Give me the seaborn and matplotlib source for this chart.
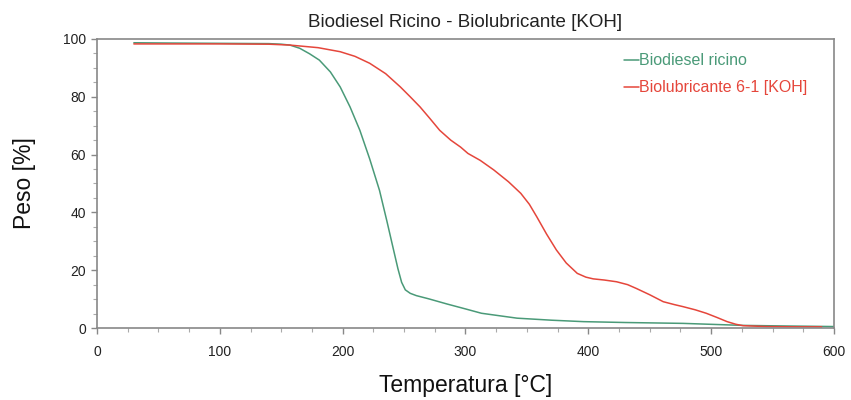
import numpy as np
import pandas as pd
import matplotlib
matplotlib.use("Agg")
import matplotlib.pyplot as plt
import seaborn as sns
from matplotlib.ticker import MultipleLocator

# Data
temp_biodiesel = [30, 60, 100, 140, 150, 157, 165, 173, 181, 190, 198, 206, 214, 222, 230, 236, 241, 245, 248, 251, 255, 260, 270, 285, 300, 313, 330, 342, 370, 396, 430, 477, 526, 560, 600]
peso_biodiesel = [98.7, 98.6, 98.5, 98.4, 98.2, 97.9, 96.8, 94.9, 92.7, 88.6, 83.4, 76.5, 68.4, 58.5, 47.6, 37.0, 27.8, 20.5, 15.8, 13.2, 12.0, 11.2, 10.1, 8.3, 6.6, 5.1, 4.1, 3.4, 2.7, 2.2, 1.9, 1.6, 0.9, 0.7, 0.5]

temp_biolub = [30, 60, 100, 140, 157, 180, 198, 210, 222, 235, 247, 255, 263, 271, 279, 288, 296, 302, 312, 323, 335, 345, 352, 358, 366, 374, 382, 391, 398, 404, 413, 423, 432, 439, 450, 461, 470, 477, 487, 496, 505, 513, 520, 526, 545, 570, 590]
peso_biolub = [98.3, 98.3, 98.3, 98.2, 97.9, 97.0, 95.6, 94.0, 91.6, 88.0, 83.4, 80.0, 76.5, 72.5, 68.4, 65.0, 62.6, 60.4, 58.0, 54.7, 50.6, 46.6, 42.8, 38.5, 32.5, 27.0, 22.5, 18.9, 17.6, 17.0, 16.6, 16.0, 15.0, 13.7, 11.5, 9.1, 8.1, 7.4, 6.3, 5.1, 3.6, 2.2, 1.3, 0.8, 0.5, 0.4, 0.4]

label_biodiesel = "Biodiesel ricino"
label_biolub = "Biolubricante 6-1 [KOH]"

df = pd.concat([
    pd.DataFrame({"Temperatura": temp_biodiesel, "Peso": peso_biodiesel, "Serie": label_biodiesel}),
    pd.DataFrame({"Temperatura": temp_biolub, "Peso": peso_biolub, "Serie": label_biolub}),
])

sns.set_theme(style="white")
plt.rcParams['font.family'] = ['Liberation Sans', 'DejaVu Sans']

fig = plt.figure(figsize=(8.51, 4.0), dpi=100)
ax = fig.add_axes([0.114, 0.18, 0.866, 0.7225])

palette = {label_biodiesel: "#4a9a78", label_biolub: "#e5463b"}
sns.lineplot(data=df, x="Temperatura", y="Peso", hue="Serie", palette=palette,
             linewidth=1.1, ax=ax, sort=False, estimator=None)

ax.set_xlim(0, 600)
ax.set_ylim(0, 100)
ax.xaxis.set_major_locator(MultipleLocator(100))
ax.xaxis.set_minor_locator(MultipleLocator(25))
ax.yaxis.set_major_locator(MultipleLocator(20))
ax.yaxis.set_minor_locator(MultipleLocator(5))
ax.tick_params(which="both", direction="out", color="#888888", bottom=True, left=True,
               labelsize=10, labelcolor="#222222")
ax.tick_params(which="major", length=4, width=1)
ax.tick_params(which="minor", length=3, width=0.8, color="#aaaaaa")
ax.tick_params(axis="x", which="major", pad=8)
ax.tick_params(axis="y", which="major", pad=4)

for s in ax.spines.values():
    s.set_color("#888888")
    s.set_linewidth(1.2)

ax.set_xlabel("Temperatura [°C]", fontsize=16.5, color="#111111", labelpad=11)
ax.set_ylabel("Peso [%]", fontsize=16.5, color="#111111", labelpad=19)
ax.set_title("Biodiesel Ricino - Biolubricante [KOH]", fontsize=13.5, color="#222222", pad=8.5)

leg = ax.legend(loc="upper left", bbox_to_anchor=(0.695, 1.0), frameon=False,
                handlelength=0.95, handletextpad=0.0, fontsize=11.5, labelcolor="linecolor",
                labelspacing=0.75)

fig.savefig("out.png", dpi=100)
